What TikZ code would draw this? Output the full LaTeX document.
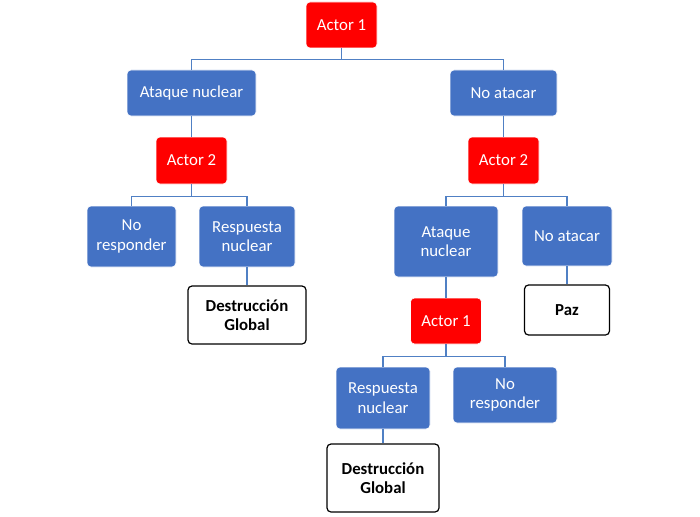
\documentclass[tikz,border=0pt]{standalone}
\usepackage{fontspec}
\setmainfont{Carlito}
\definecolor{boxblue}{HTML}{4472C4}
\definecolor{boxred}{HTML}{FF0000}
\definecolor{lineblue}{HTML}{5080C4}
\begin{document}
\begin{tikzpicture}[x=1pt,y=-1pt,
  base/.style={rounded corners=4pt, inner sep=0pt, align=center,
    font=\fontsize{16.8}{19.5}\selectfont},
  actor/.style={base, fill=boxred, draw=white, line width=0.6pt, text=white},
  choice/.style={base, fill=boxblue, draw=white, line width=0.6pt, text=white},
  outcome/.style={base, fill=white, draw=black, line width=1.2pt, text=black,
    font=\fontsize{16.8}{19.5}\selectfont\bfseries},
  link/.style={draw=lineblue, line width=1.5pt}]
\useasboundingbox (0,0) rectangle (700,516);

\node[actor, minimum width=71pt, minimum height=46pt] (a1) at (341.5,25) {Actor 1};
\node[choice, minimum width=129pt, minimum height=46pt] (an1) at (191.5,93) {Ataque nuclear};
\node[choice, minimum width=107pt, minimum height=46pt] (na1) at (503.5,93) {No atacar};

\node[actor, minimum width=71pt, minimum height=47pt] (a2L) at (191.5,160.5) {Actor 2};
\node[choice, minimum width=89pt, minimum height=61pt] (nrL) at (131.5,236.5) {No\\responder};
\node[choice, minimum width=96pt, minimum height=61pt] (rnL) at (247,236.5) {Respuesta\\nuclear};
\node[outcome, minimum width=118pt, minimum height=58pt] (dgL) at (247,315) {Destrucción\\Global};

\node[actor, minimum width=71pt, minimum height=47pt] (a2R) at (503.5,160.5) {Actor 2};
\node[choice, minimum width=104pt, minimum height=71pt] (anR) at (446,241.5) {Ataque\\nuclear};
\node[choice, minimum width=90pt, minimum height=60pt] (naR) at (567,236) {No atacar};
\node[outcome, minimum width=85pt, minimum height=50pt] (paz) at (567,310) {Paz};

\node[actor, minimum width=71pt, minimum height=46pt] (a1b) at (446,321) {Actor 1};
\node[choice, minimum width=94pt, minimum height=62pt] (rnR) at (383,398) {Respuesta\\nuclear};
\node[choice, minimum width=104pt, minimum height=56pt] (nrR) at (505,395) {No\\responder};
\node[outcome, minimum width=112pt, minimum height=68pt] (dgR) at (383,478) {Destrucción\\Global};

\draw[link] (a1.south) -- ++(0,11) -| (an1.north);
\draw[link] (a1.south) -- ++(0,11) -| (na1.north);
\draw[link] (an1.south) -- (a2L.north);
\draw[link] (na1.south) -- (a2R.north);
\draw[link] (a2L.south) -- ++(0,12) -| (nrL.north);
\draw[link] (a2L.south) -- ++(0,12) -| (rnL.north);
\draw[link] (rnL.south) -- (dgL.north);
\draw[link] (a2R.south) -- ++(0,12) -| (anR.north);
\draw[link] (a2R.south) -- ++(0,12) -| (naR.north);
\draw[link] (naR.south) -- (paz.north);
\draw[link] (anR.south) -- (a1b.north);
\draw[link] (a1b.south) -- ++(0,12) -| (rnR.north);
\draw[link] (a1b.south) -- ++(0,12) -| (nrR.north);
\draw[link] (rnR.south) -- (dgR.north);
\end{tikzpicture}
\end{document}
